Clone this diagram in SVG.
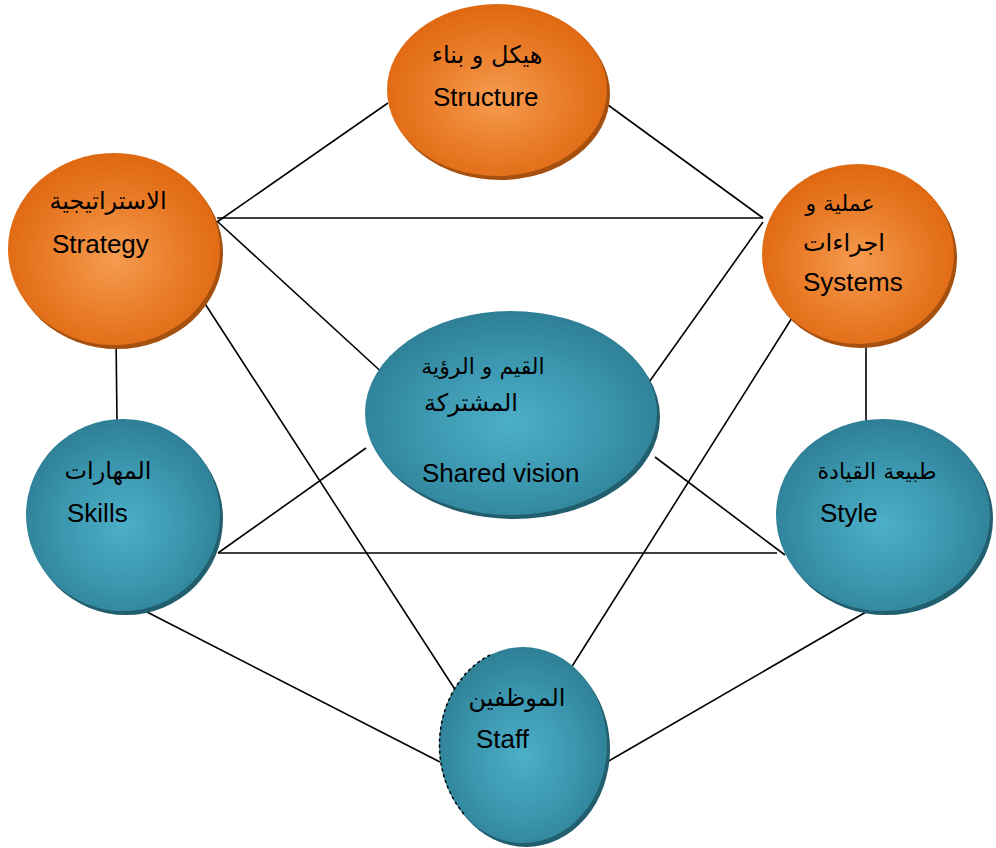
<svg xmlns="http://www.w3.org/2000/svg" width="996" height="848" viewBox="0 0 996 848">
  <defs>
    <radialGradient id="gOrange" cx="50%" cy="55%" r="55%">
      <stop offset="0" stop-color="#F59C50"/>
      <stop offset="0.6" stop-color="#E97A26"/>
      <stop offset="1" stop-color="#DE6810"/>
    </radialGradient>
    <radialGradient id="gTeal" cx="50%" cy="55%" r="55%">
      <stop offset="0" stop-color="#4CAFC8"/>
      <stop offset="0.6" stop-color="#3A95AD"/>
      <stop offset="1" stop-color="#2E7F95"/>
    </radialGradient>
    <style>
      .lnk { stroke: #000; stroke-width: 1.6; fill: none; }
      .shO { fill: #A5500F; }
      .shT { fill: #215E6E; }
      .orange { fill: url(#gOrange); }
      .teal { fill: url(#gTeal); }
      .en { font-family: "Liberation Sans", Arial, sans-serif; font-size: 26px; fill: #000; }
      .ar { font-family: "DejaVu Sans", "Noto Sans", sans-serif; font-size: 24px; fill: #000; text-anchor: middle; }
      .ar.sm { font-size: 22px; }
    </style>
  </defs>

  <rect width="996" height="848" fill="#fff"/>

  <!-- connectors -->
  <g id="connectors">
    <line class="lnk" x1="388" y1="103" x2="217" y2="222"/>
    <line class="lnk" x1="608" y1="105" x2="763" y2="218"/>
    <line class="lnk" x1="217" y1="218" x2="763" y2="218"/>
    <line class="lnk" x1="218" y1="222" x2="387" y2="377"/>
    <line class="lnk" x1="763" y1="222" x2="647" y2="385"/>
    <line class="lnk" x1="200" y1="296" x2="456" y2="691"/>
    <line class="lnk" x1="797" y1="310" x2="571" y2="668"/>
    <line class="lnk" x1="116" y1="335" x2="117" y2="422"/>
    <line class="lnk" x1="866" y1="335" x2="866" y2="422"/>
    <line class="lnk" x1="218" y1="553" x2="777" y2="553"/>
    <line class="lnk" x1="218" y1="553" x2="366" y2="448"/>
    <line class="lnk" x1="655" y1="457" x2="785" y2="555"/>
    <line class="lnk" x1="147" y1="612" x2="440" y2="762"/>
    <line class="lnk" x1="866" y1="612" x2="607" y2="762"/>
  </g>

  <!-- Structure -->
  <g id="structure">
    <ellipse class="shO" cx="500" cy="94" rx="110" ry="86"/>
    <ellipse class="orange" cx="497" cy="90" rx="110" ry="86"/>
    <text class="ar" x="487" y="63">هيكل و بناء</text>
    <text class="en" x="433" y="106">Structure</text>
  </g>

  <!-- Strategy -->
  <g id="strategy">
    <ellipse class="shO" cx="117" cy="253" rx="106" ry="96"/>
    <ellipse class="orange" cx="114" cy="249" rx="106" ry="96"/>
    <text class="ar" x="108" y="209">الاستراتيجية</text>
    <text class="en" x="52" y="253">Strategy</text>
  </g>

  <!-- Systems -->
  <g id="systems">
    <ellipse class="shO" cx="861" cy="258" rx="96" ry="90"/>
    <ellipse class="orange" cx="858" cy="254" rx="96" ry="90"/>
    <text class="ar sm" x="840" y="211">عملية و</text>
    <text class="ar" x="844" y="251">اجراءات</text>
    <text class="en" x="803" y="291">Systems</text>
  </g>

  <!-- Shared vision -->
  <g id="shared-vision">
    <ellipse class="shT" cx="514" cy="417" rx="146" ry="102"/>
    <ellipse class="teal" cx="511" cy="413" rx="146" ry="102"/>
    <text class="ar sm" x="483" y="374">القيم و الرؤية</text>
    <text class="ar" x="471" y="411">المشتركة</text>
    <text class="en" x="422" y="482">Shared vision</text>
  </g>

  <!-- Skills -->
  <g id="skills">
    <ellipse class="shT" cx="126" cy="519" rx="97" ry="96"/>
    <ellipse class="teal" cx="123" cy="515" rx="97" ry="96"/>
    <text class="ar" x="108" y="479">المهارات</text>
    <text class="en" x="67" y="522">Skills</text>
  </g>

  <!-- Style -->
  <g id="style">
    <ellipse class="shT" cx="886" cy="519" rx="107" ry="96"/>
    <ellipse class="teal" cx="883" cy="515" rx="107" ry="96"/>
    <text class="ar sm" x="877" y="479">طبيعة القيادة</text>
    <text class="en" x="820" y="522">Style</text>
  </g>

  <!-- Staff -->
  <g id="staff">
    <ellipse class="shT" cx="526" cy="749" rx="84" ry="98"/>
    <ellipse class="teal" cx="523" cy="745" rx="84" ry="98"/>
    <path d="M 490 655 A 84 98 0 0 0 464 814" fill="none" stroke="#000" stroke-width="1.5" stroke-dasharray="3 3"/>
    <text class="ar" x="517" y="706">الموظفين</text>
    <text class="en" x="476" y="748">Staff</text>
  </g>
</svg>
